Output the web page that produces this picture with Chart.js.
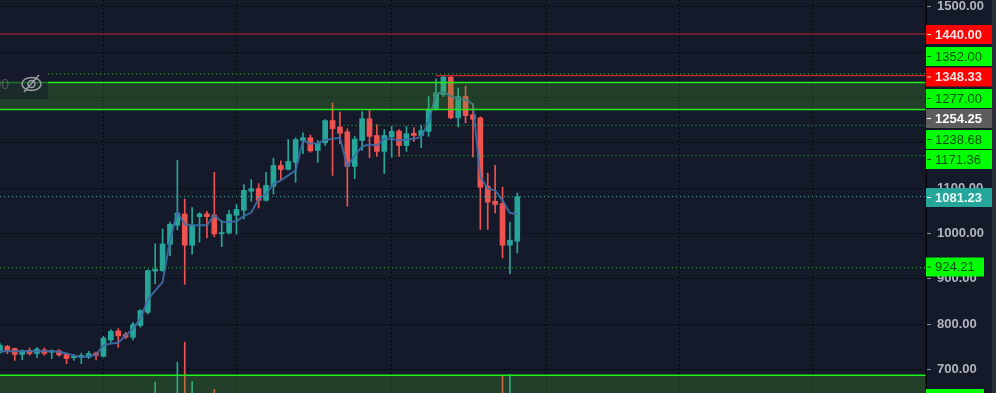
<!DOCTYPE html>
<html lang="en">
  <head>
    <meta charset="UTF-8" />
    <title>Candlestick chart</title>
    <script src="https://cdn.jsdelivr.net/npm/chart.js"></script>
    <style>
      html, body { margin: 0; padding: 0; background: #2a2e39; overflow: hidden; }
      canvas { display: block; }
    </style>
  </head>
  <body>
    <canvas id="priceChart" width="996" height="393"></canvas>
    <script>
      const opens = [738,751,746,733,742,735,743,738,741,733,726,727,727,736,729,765,785,777,771,797,826,917,918,976,1018,1043,974,1037,1043,1041,999,1001,1040,1051,1093,1099,1073,1104,1150,1141,1157,1205,1211,1183,1200,1249,1235,1224,1148,1205,1253,1216,1181,1213,1226,1194,1221,1216,1225,1274,1306,1345,1255,1302,1262,1255,1104,1071,1066,974,983];
      const highs = [757,753,747,743,747,749,747,743,744,736,732,736,740,738,773,788,790,782,804,832,920,977,1010,1025,1161,1076,1057,1046,1049,1135,1029,1051,1064,1108,1119,1110,1135,1166,1160,1207,1211,1222,1217,1205,1251,1288,1268,1231,1214,1269,1271,1240,1229,1236,1229,1236,1233,1238,1302,1341,1347,1346,1321,1325,1286,1257,1133,1150,1102,1025,1089];
      const lows = [736,735,720,721,731,726,731,724,729,713,720,713,724,721,727,760,749,768,765,793,822,889,916,951,1008,888,954,981,990,993,971,999,998,1032,1071,1056,1071,1087,1117,1140,1113,1176,1179,1157,1194,1128,1198,1060,1121,1183,1167,1170,1132,1168,1170,1181,1203,1189,1214,1272,1302,1253,1235,1244,1168,1009,1009,1045,946,911,957];
      const closes = [753,742,733,742,735,745,735,741,732,724,729,731,735,731,769,784,774,771,799,830,918,921,977,1020,1045,974,1019,1043,1037,999,1002,1042,1053,1095,1099,1073,1106,1150,1141,1159,1207,1211,1182,1199,1249,1231,1221,1148,1208,1253,1214,1181,1216,1225,1194,1220,1216,1227,1274,1310,1345,1255,1302,1260,1252,1102,1069,1064,974,985,1081];
      const average = [740,740,740,740,740,740,740,740,739,735,731,727,729,732,753,757,759,775,790,812,854,874,893,985,1047,1020,1018,1018,1018,1040,1026,1025,1027,1038,1046,1076,1087,1109,1117,1128,1139,1205,1198,1199,1206,1209,1211,1148,1172,1192,1196,1194,1209,1209,1205,1207,1209,1213,1246,1308,1312,1303,1297,1295,1285,1124,1099,1095,1073,1045,1043];
      const volumeBars = [21,24,25,26,29,68,69];
      const volumeTops = [672,716,760,674,656,685,689];

      const yTicks = [1500,1400,1300,1200,1100,1000,900,800,700];
      const xGrid = [5,23,41,65,83,101,119];

      const resistance = [1440,1348.33];
      const resistanceFrom = [0,59];
      const dottedLevels = [1352,1238.68,1171.36,924.21];
      const dottedFrom = [6.5,46.5,53,0];
      const lastPrice = 1081.23;
      const zoneHigh = [1333,1273.5];
      const zoneLow = [687,648];

      const labelTexts = ["1440.00","1352.00","1348.33","1277.00","1254.25","1238.68","1171.36","1081.23","924.21",""];
      const labelKinds = ["red","green","red","green","gray","green","green","teal","greenShort","greenShort"];

      const UP = "#26a69a";
      const DOWN = "#ef5350";
      const XMAX = 926 / 7.39;
      const YMAX = 1515;
      const YMIN = 648;
      const GREEN_LINE = "#20f01c";

      const isUp = opens.map((o, i) => closes[i] >= o);
      const candleColors = isUp.map((u) => (u ? UP : DOWN));

      function levelLine(value, from, color, dash, width) {
        return {
          type: "line",
          data: [{ x: from, y: value }, { x: XMAX, y: value }],
          borderColor: color,
          borderWidth: width,
          borderDash: dash,
          pointRadius: 0,
          order: 2,
        };
      }

      const labelStyles = {
        red: { fill: "#ff0000", ink: "#ffe0e0", right: 992, weight: "bold" },
        green: { fill: "#00ff00", ink: "#044d0a", right: 992, weight: "normal" },
        greenShort: { fill: "#00ff00", ink: "#044d0a", right: 984, weight: "normal" },
        gray: { fill: "#5d5d5d", ink: "#ffffff", right: 992, weight: "bold" },
        teal: { fill: "#26a69a", ink: "#e6f7f5", right: 992, weight: "bold" },
      };
      const labelCenters = [34.5,56.5,77,98.5,118.5,139.5,159.5,197.5,267,398.5];

      const paintPanels = {
        id: "paintPanels",
        beforeDraw(chart) {
          const { ctx } = chart;
          ctx.save();
          ctx.fillStyle = "#151a2b";
          ctx.fillRect(0, 0, 992, 393);
          ctx.restore();
        },
        afterDatasetsDraw(chart) {
          const { ctx } = chart;
          ctx.save();
          // hidden indicator box, top left
          ctx.fillStyle = "rgba(21,26,43,0.55)";
          ctx.fillRect(0, 70, 48, 29);
          ctx.fillStyle = "rgba(120,123,134,0.55)";
          ctx.font = "14px 'Liberation Sans'";
          ctx.textAlign = "right";
          ctx.textBaseline = "middle";
          ctx.fillText("00", 9, 85);
          ctx.strokeStyle = "#9a9da6";
          ctx.lineWidth = 1.5;
          ctx.beginPath();
          ctx.ellipse(31.5, 84, 9.5, 6.5, 0, 0, Math.PI * 2);
          ctx.moveTo(35, 84);
          ctx.arc(31.5, 84, 3.5, 0, Math.PI * 2);
          ctx.moveTo(39, 75);
          ctx.lineTo(24, 92);
          ctx.stroke();
          ctx.restore();
        },
        afterDraw(chart) {
          const { ctx, chartArea: a } = chart;
          ctx.save();
          ctx.fillStyle = "#05070d";
          ctx.fillRect(a.right - 0.5, 0, 1.5, 393);
          ctx.textBaseline = "middle";
          ctx.textAlign = "left";
          labelTexts.forEach((text, i) => {
            const st = labelStyles[labelKinds[i]];
            const cy = labelCenters[i];
            ctx.fillStyle = st.fill;
            ctx.fillRect(926, cy - 9.5, st.right - 926, 19);
            ctx.fillStyle = st.ink;
            ctx.fillRect(927, cy - 0.5, 4, 1);
            ctx.font = st.weight + " 13px 'Liberation Sans'";
            ctx.fillText(text, 935, cy + 0.5);
          });
          ctx.restore();
        },
      };

      new Chart(document.getElementById("priceChart"), {
        type: "bar",
        data: {
          datasets: [
            // zones sit above the candles, the way the platform paints them
            {
              type: "line",
              data: [{ x: 0, y: zoneHigh[0] }, { x: XMAX, y: zoneHigh[0] }],
              borderColor: GREEN_LINE,
              borderWidth: 1.6,
              pointRadius: 0,
              fill: { value: zoneHigh[1] },
              backgroundColor: "rgba(76,175,40,0.25)",
              order: 1,
            },
            levelLine(zoneHigh[1], 0, GREEN_LINE, [], 1.6),
            {
              type: "line",
              data: [{ x: 0, y: zoneLow[0] }, { x: XMAX, y: zoneLow[0] }],
              borderColor: GREEN_LINE,
              borderWidth: 1.6,
              pointRadius: 0,
              fill: { value: zoneLow[1] },
              backgroundColor: "rgba(76,175,40,0.25)",
              order: 1,
            },
            levelLine(resistance[0], resistanceFrom[0], "#c4242c", [], 1.2),
            levelLine(resistance[1], resistanceFrom[1], "#d0262e", [], 1.3),
            ...dottedLevels.map((v, i) => levelLine(v, dottedFrom[i], "#35c040", [1, 3], 1)),
            levelLine(lastPrice, 0, "#33b0a2", [1, 3], 1),
            {
              type: "line",
              data: average.map((y, x) => ({ x, y })),
              borderColor: "rgba(60,108,165,0.9)",
              borderWidth: 2,
              pointRadius: 0,
              order: 3,
            },
            {
              data: opens.map((o, x) => ({ x, y: [o, closes[x]] })),
              backgroundColor: candleColors,
              barThickness: 5,
              grouped: false,
              order: 4,
            },
            {
              data: opens.map((o, x) => ({ x, y: [lows[x], highs[x]] })),
              backgroundColor: candleColors,
              barThickness: 1,
              grouped: false,
              order: 5,
            },
            {
              data: volumeBars.map((x, i) => ({ x, y: [YMIN, volumeTops[i]] })),
              backgroundColor: volumeBars.map((x) => candleColors[x]),
              barThickness: 1,
              grouped: false,
              order: 5,
            },
          ],
        },
        options: {
          responsive: false,
          animation: false,
          layout: { padding: { right: 4 } },
          plugins: { legend: { display: false }, tooltip: { enabled: false } },
          scales: {
            x: {
              type: "linear",
              min: 0,
              max: XMAX,
              offset: false,
              afterBuildTicks(scale) {
                scale.ticks = xGrid.map((value) => ({ value }));
              },
              afterFit(scale) {
                scale.height = 0;
                scale.paddingLeft = 0;
                scale.paddingRight = 0;
              },
              ticks: { display: false },
              grid: { color: "rgba(0,0,0,0.75)", drawTicks: false },
              border: { display: false, dash: [2, 2] },
            },
            y: {
              position: "right",
              min: YMIN,
              max: YMAX,
              afterBuildTicks(scale) {
                scale.ticks = yTicks.map((value) => ({ value }));
              },
              afterFit(scale) {
                scale.width = 66;
                scale.paddingTop = 0;
                scale.paddingBottom = 0;
              },
              ticks: {
                autoSkip: false,
                padding: 6,
                color: "#b2b5be",
                font: { family: "'Liberation Sans'", size: 13, weight: "bold" },
                // 1400 is covered by the price labels in the reference
                callback: (v) => (v === 1400 ? "" : v.toFixed(2)),
              },
              grid: { color: "rgba(0,0,0,0.75)", tickColor: "#8f929c", tickLength: 5 },
              border: { display: false, dash: [2, 2] },
            },
          },
        },
        plugins: [paintPanels],
      });
    </script>
  </body>
</html>
